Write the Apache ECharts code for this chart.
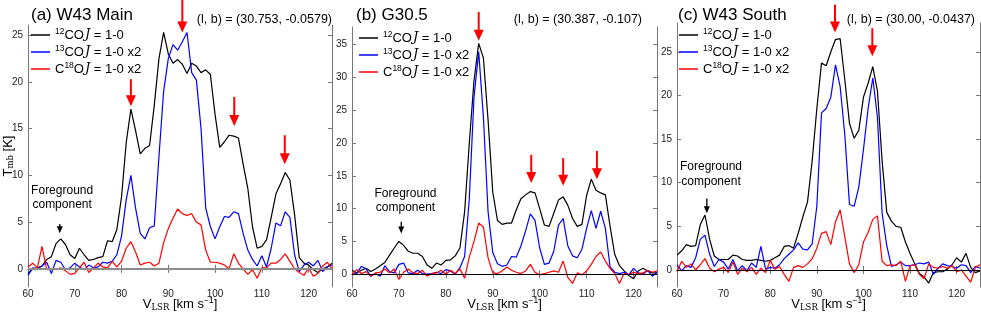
<!DOCTYPE html>
<html><head><meta charset="utf-8">
<script src="https://cdn.jsdelivr.net/npm/echarts@6/dist/echarts.min.js"></script>
<style>html,body{margin:0;padding:0;background:#fff}#c{width:981px;height:314px}</style>
</head><body><div id="c"></div>
<script>
// ---------------- data ----------------
const vel = [60,61,62,63,64,65,66,67,68,69,70,71,72,73,74,75,76,77,78,79,80,81,82,83,84,85,86,87,88,89,90,91,92,93,94,95,96,97,98,99,100,101,102,103,104,105,106,107,108,109,110,111,112,113,114,115,116,117,118,119,120,121,122,123,124,125];
const xTicks = [60,70,80,90,100,110,120];
const yTicksA = [0,5,10,15,20,25];
const yTicksB = [0,5,10,15,20,25,30,35];
const yTicksC = [0,5,10,15,20,25];

const seriesNames = ['12CO','13CO','C18O'];
const panelTitles = ['(a) W43 Main','(b) G30.5','(c) W43 South'];
const panelCoords = ['(l, b) = (30.753, -0.0579)','(l, b) = (30.387, -0.107)','(l, b) = (30.00, -0.0437)'];
const fgLabel = 'Foreground\ncomponent';

// (a) W43 Main
const coA12 = [-0.5,0,0.1,0.3,1.0,1.3,2.7,3.2,2.6,1.5, 1.1,2.2,1.5,0.9,1.0,1.2,1.3,3.0,2.9,4.2, 7.7,13.5,17.1,14.8,12.3,12.9,13.2,17.5,22.5,25.3, 23.0,22.0,22.4,21.9,20.9,22.0,21.7,21.0,21.3,20.8, 16.5,13.0,13.6,14.3,14.2,14.0,11.2,8.6,4.5,2.2, 2.4,3.1,5.5,8.0,9.1,10.3,9.5,5.8,1.2,0.6, 0.4,-0.1,-0.4,0.0,0.2,0.6];
const coA13 = [-0.7,0.1,0,0.3,0.7,-0.5,0.9,0.7,-0.1,0.1, 0.6,0.2,-0.1,0.4,0.1,0.2,0.7,0.6,0.8,1.5, 3.5,7.4,10.0,6.5,3.8,3.2,4.4,4.6,12.0,19.0, 22.5,24.0,23.4,24.3,25.3,21.0,20.2,15.0,6.5,4.5, 3.2,4.5,5.6,5.5,6.1,5.9,3.8,2.0,1.0,0.3, 1.4,0.2,2.2,4.9,4.6,6.1,5.5,1.5,-0.3,0.4, 0.7,0.3,0.9,-0.3,0.2,0.4];
const coA18 = [0.2,0.6,0.1,2.4,-0.1,0,-0.1,0.1,-0.2,-0.6, -0.5,0.1,0.7,-0.4,0.1,0.6,0.2,0.1,0.8,0.2, 0.8,2.2,2.9,1.8,0.4,0.6,0.7,0.3,0.6,2.8, 4.3,5.4,6.4,5.9,5.7,5.9,5.0,4.7,2.0,0.7, 0.7,0.6,0.4,0,1.6,0.6,0,-0.6,-0.1,-1.0, 0.1,0.1,0.6,0.6,1.0,1.6,0.8,0,-0.4,-0.7, 0.1,-0.8,-0.5,0.3,0.7,0];

// (b) G30.5
const coB12 = [0.6,0.2,0.6,0.9,0.4,0.8,1.3,1.8,2.9,4.0, 5.0,4.4,3.5,3.2,3.2,2.7,1.4,0.9,1.7,1.4, 2.1,2.2,2.8,4.0,9.5,20.0,29.5,35.2,33.0,23.5, 12.5,8.2,7.6,7.8,7.8,9.8,11.5,12.1,12.6,12.4, 10.0,7.5,7.3,9.3,11.3,11.8,10.5,8.5,7.3,7.6, 12.0,14.5,12.8,12.4,12.1,7.3,3.0,1.3,0.5,-0.2, -0.7,0.5,0.9,0.5,0.2,0.2];
const coB13 = [0.0,0.1,1.2,0.8,-0.3,0.1,-0.3,1.3,0.4,0.2, 1.5,1.7,0.2,0.1,0.6,0.1,0,0.1,0.3,0.1, 0.7,0.5,0,1.0,2.7,11.5,27.0,33.9,24.0,9.5, 3.3,1.6,1.2,1.4,2.7,2.6,4.3,6.6,9.2,8.2, 4.0,1.5,1.7,3.5,7.5,8.5,4.3,2.8,2.5,3.8, 7.0,9.7,7.0,9.6,7.0,1.1,0.3,0.1,0.3,-0.1, 0.9,0.2,0,0.6,-0.3,0.3];
const coB18 = [-0.1,0.7,0.1,0.4,-0.3,0.2,0.3,0.8,0.2,0.8, -0.8,0.3,0.8,0.2,0.1,0.6,-0.3,0.1,0.2,0.6, 0,0.6,0.1,0.8,-0.6,2.6,5.0,7.8,7.2,2.5, 0.2,0.1,0.5,1.1,0.6,0.3,0.1,0.5,1.5,0.3, -0.1,0.1,0.3,0.5,0.3,2.0,-0.5,-1.4,0.2,-0.1, 0.5,1.5,2.7,3.4,2.0,0.9,0.1,-1.4,0.1,-0.1, 0.3,0.1,0.2,0.6,0.3,0.5];

// (c) W43 South
const coC12 = [1.7,2.2,2.9,2.7,2.8,5.2,6.3,3.5,1.6,1.2, 1.2,1.2,1.7,1.6,1.2,1.1,1.1,1.2,1.1,1.0, 1.1,1.4,1.7,2.7,2.8,2.5,4.2,6.1,7.8,12.5, 18.5,23.7,23.4,25.0,26.4,26.5,21.8,16.8,15.1,16.0, 19.8,21.4,23.3,20.5,12.5,6.6,5.6,5.0,4.9,3.2, 1.9,0.7,-0.4,-0.8,-1.5,-0.3,-0.2,-0.2,0.1,0.6, 1.4,0.9,1.9,0.3,-0.3,-0.1];
const coC13 = [0.6,-0.1,0.5,0.3,1.4,3.5,4.0,1.8,0.4,1.2, 0.9,0.1,1.2,-0.1,0.5,-0.1,0.8,0.3,2.7,0.1, 0.3,0.2,0.6,1.3,1.8,2.3,3.1,2.4,2.3,3.0, 7.3,18.0,18.5,19.8,23.5,21.0,15.5,7.5,7.3,9.5, 13.8,18.5,22.0,17.5,6.5,2.8,0.4,0.6,0.9,0.5, 0.5,0.6,0.8,0.7,0.9,-0.5,0.2,0.7,0.5,0.4, 0.2,0.6,0.5,-0.3,0.4,0.2];
const coC18 = [-0.2,1.0,0.3,0.7,0,0.6,1.3,0.2,-0.2,0.1, 0.3,-0.3,0.9,-0.5,0.2,-0.2,0.3,-0.5,0.2,-0.3, 1.1,0.1,0.4,-0.5,-1.3,0.3,0.5,0.3,0.7,1.3, 2.5,4.2,4.4,2.9,5.5,6.9,3.8,0.7,-0.3,0.6, 3.2,4.3,5.8,6.2,1.0,0.5,0.6,0.5,1.0,-1.3, 0.5,0.6,-0.5,-1.0,0.7,0.3,0.2,0.4,0.2,0.5, -0.2,0,-0.7,-1.4,0.3,0.6];

// annotation arrows: [velocity, start value, tip value] (data units)
const arrowsA = [[82,20.3,17.4],[93,28.8,25.3],[104.1,18.4,15.3],[114.9,14.3,11.2]];
const arrowsB = [[87,40.0,35.6],[98.2,18.2,13.9],[105,17.7,13.5],[112.2,18.8,14.5]];
const arrowsC = [[93.9,30.4,27.2],[101.9,27.7,24.5]];
const fgArrowA = [66.8,4.8,3.8], fgTextA = [67.3,7.6];
const fgArrowB = [70.5,8.0,6.2], fgTextB = [71.4,11.2];
const fgArrowC = [66.4,8.2,6.5], fgTextC = [67.3,11.0];

// ---------------- layout / style ----------------
const panels = [
  {grid:{left:28,top:25,width:304,height:262}, y:[-1.95,26.1], yt:yTicksA, d:[coA12,coA13,coA18], ar:arrowsA, fa:fgArrowA, ft:fgTextA, zero:{color:'#8c8c8c',width:2}, leg:{left:31,top:27}, tl:26, cr:981-337},
  {grid:{left:352,top:27,width:305,height:260}, y:[-1.95,37.7], yt:yTicksB, d:[coB12,coB13,coB18], ar:arrowsB, fa:fgArrowB, ft:fgTextB, zero:{color:'#000',width:1}, leg:{left:359,top:30}, tl:351, cr:981-647},
  {grid:{left:677,top:23,width:303,height:264}, y:[-1.95,28.3], yt:yTicksC, d:[coC12,coC13,coC18], ar:arrowsC, fa:fgArrowC, ft:fgTextC, zero:{color:'#000',width:1}, leg:{left:679,top:27}, tl:673, cr:1},
];
const colors = ['#000000','#0000ff','#ff0000'];
const frame = '#777';
const FONT = 'Liberation Sans';

const legendLabel = {
  '12CO': '{sup|12}{n|CO}{it|J}{n| = 1-0}',
  '13CO': '{sup|13}{n|CO}{it|J}{n| = 1-0 x2}',
  'C18O': '{n|C}{sup|18}{n|O}{it|J}{n| = 1-0 x2}'
};
const legendRich = {
  n:{fontSize:13,lineHeight:16,color:'#000',fontFamily:FONT},
  sup:{fontSize:8.5,lineHeight:9,verticalAlign:'top',color:'#000',fontFamily:FONT},
  it:{fontSize:13,lineHeight:16,fontStyle:'italic',fontFamily:'DejaVu Serif',color:'#000',padding:[0,0,0,1]}
};

const option = {animation:false, backgroundColor:'#fff', textStyle:{fontFamily:FONT},
  title:[], legend:[], grid:[], xAxis:[], yAxis:[], series:[]};

panels.forEach((p,i)=>{
  option.grid.push(Object.assign({containLabel:false, outerBoundsMode:'none'}, p.grid));
  option.title.push({text:panelTitles[i], left:p.tl, top:2, textStyle:{fontSize:17,fontWeight:'normal',color:'#000',fontFamily:FONT}});
  option.title.push({text:panelCoords[i], right:p.cr, top:8, textStyle:{fontSize:12.5,fontWeight:'normal',color:'#000',fontFamily:FONT}});
  option.legend.push({data:seriesNames, orient:'vertical', left:p.leg.left, top:p.leg.top, itemWidth:19, itemHeight:1.5, itemGap:2.5,
    icon:'rect', padding:0, formatter:n=>legendLabel[n], textStyle:{rich:legendRich}, selectedMode:false});
  const axBase = {gridIndex:i, type:'value', min:60, max:125, splitLine:{show:false},
    axisLine:{show:true,lineStyle:{color:frame,width:1}},
    axisTick:{show:true,inside:true,length:4,customValues:xTicks,lineStyle:{color:frame}}};
  option.xAxis.push(Object.assign({}, axBase, {position:'bottom',
    axisLabel:{show:true,customValues:xTicks,fontSize:10,margin:2,color:'#222',fontFamily:FONT},
    name:'{v|V}{sub|LSR}{n| [km s}{sup|−1}{n|]}', nameLocation:'middle', nameGap:9, nameMoveOverlap:false,
    nameTextStyle:{verticalAlign:'top', rich:{
      v:{fontSize:13,lineHeight:16,color:'#000',fontFamily:FONT},
      n:{fontSize:13,lineHeight:16,color:'#000',fontFamily:FONT},
      sub:{fontSize:8.5,lineHeight:9,verticalAlign:'bottom',color:'#000',fontFamily:'DejaVu Serif'},
      sup:{fontSize:8.5,lineHeight:9,verticalAlign:'top',color:'#000',fontFamily:FONT}}}}));
  option.xAxis.push(Object.assign({}, axBase, {position:'top', axisLabel:{show:false}}));
  const ayBase = {gridIndex:i, type:'value', min:p.y[0], max:p.y[1], splitLine:{show:false},
    axisLine:{show:true,lineStyle:{color:frame,width:1}},
    axisTick:{show:true,inside:true,length:4,customValues:p.yt,lineStyle:{color:frame}}};
  const yl = Object.assign({}, ayBase, {position:'left',
    axisLabel:{show:true,customValues:p.yt,fontSize:10,margin:5,color:'#222',fontFamily:FONT}});
  if(i===0){
    Object.assign(yl,{name:'{t|T}{sub|mb}{n| [K]}', nameLocation:'middle', nameGap:13, nameMoveOverlap:false,
      nameTextStyle:{rich:{
        t:{fontSize:13,lineHeight:14,color:'#000',fontFamily:FONT},
        n:{fontSize:13,lineHeight:14,color:'#000',fontFamily:FONT},
        sub:{fontSize:8.5,lineHeight:8,verticalAlign:'bottom',color:'#000',fontFamily:'DejaVu Serif'}}}});
  }
  option.yAxis.push(yl);
  option.yAxis.push(Object.assign({}, ayBase, {position:'right', axisLabel:{show:false}}));

  p.d.forEach((arr,k)=>{
    const s = {type:'line', name:seriesNames[k], xAxisIndex:2*i, yAxisIndex:2*i,
      data:vel.map((v,j)=>[v,arr[j]]), symbol:'none', showSymbol:false, clip:false, silent:true,
      lineStyle:{color:colors[k],width:1.2}, itemStyle:{color:colors[k]}, z:2+k};
    if(k===0){
      s.markLine = {silent:true, symbol:['none','none'], label:{show:false}, animation:false,
        data:[{yAxis:0, lineStyle:{color:p.zero.color,width:p.zero.width,type:'solid'}}]};
    }
    option.series.push(s);
  });
});

const chart = echarts.init(document.getElementById('c'), null, {renderer:'canvas'});
chart.setOption(option);

// annotations placed through the grids' own scales
const graphics = [];
function addArrow(gi, a, color, lw, hw, hh){
  const p0 = chart.convertToPixel({gridIndex:gi}, [a[0], a[1]]);
  const p1 = chart.convertToPixel({gridIndex:gi}, [a[0], a[2]]);
  graphics.push({type:'line', z:100, silent:true, shape:{x1:p0[0],y1:p0[1],x2:p1[0],y2:p1[1]-hh+1}, style:{stroke:color,lineWidth:lw}});
  graphics.push({type:'polygon', z:100, silent:true, shape:{points:[[p1[0]-hw/2,p1[1]-hh],[p1[0]+hw/2,p1[1]-hh],[p1[0],p1[1]]]}, style:{fill:color}});
}
panels.forEach((p,i)=>{
  p.ar.forEach(a=>addArrow(i, a, '#ff0000', 2, 10, 11));
  addArrow(i, p.fa, '#000', 1.3, 6, 7);
  const t = chart.convertToPixel({gridIndex:i}, p.ft);
  graphics.push({type:'text', z:100, silent:true, x:t[0], y:t[1],
    style:{text:fgLabel, fontSize:12, lineHeight:14.5, fontFamily:FONT, fill:'#000', align:'center', verticalAlign:'middle'}});
});
chart.setOption({graphic:graphics});
</script></body></html>
